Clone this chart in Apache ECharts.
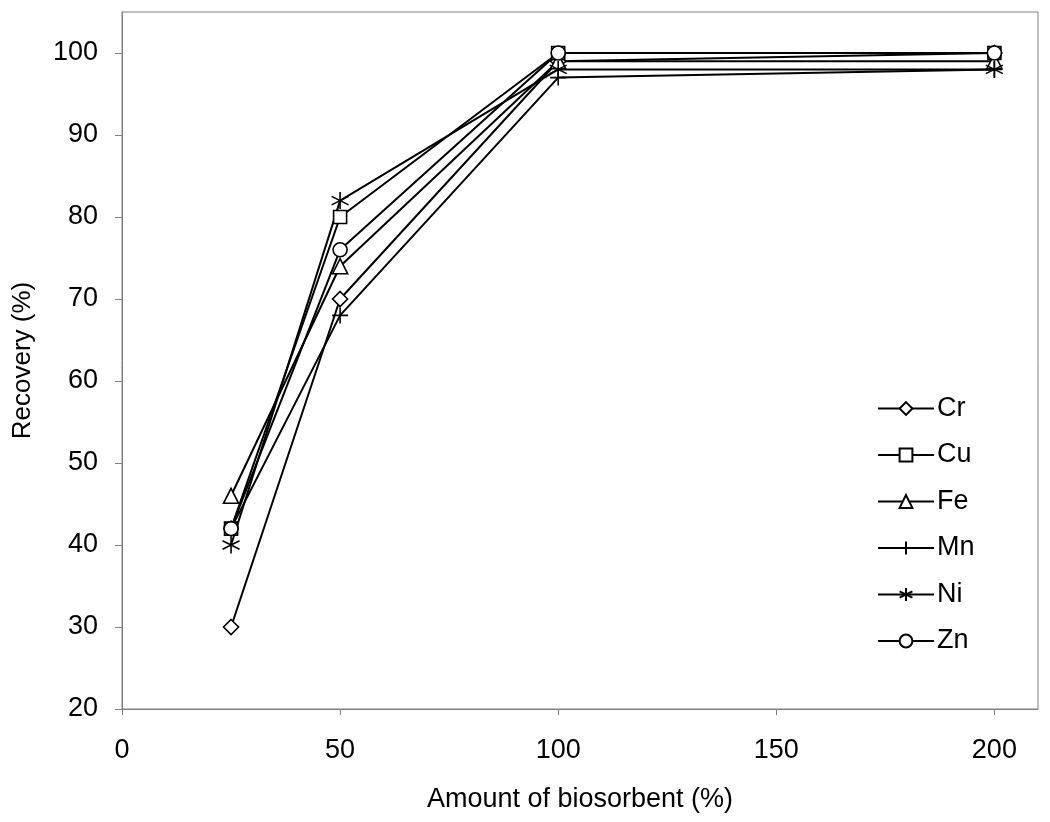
<!DOCTYPE html>
<html>
<head>
<meta charset="utf-8">
<script src="https://cdn.jsdelivr.net/npm/echarts@6/dist/echarts.min.js"></script>
<style>html,body{margin:0;padding:0;background:#fff}#c{width:1050px;height:822px}</style>
</head>
<body>
<div id="c"></div>
<script>
const xValues = [25, 50, 100, 200];
const cr = [30, 70, 99, 100];
const cu = [42, 80, 100, 100];
const fe = [46, 74, 99, 99];
const mn = [42, 68, 97, 98];
const ni = [40, 82, 98, 98];
const zn = [42, 76, 100, 100];
const xTicks = [0, 50, 100, 150, 200];
const yTicks = [20, 30, 40, 50, 60, 70, 80, 90, 100];

const plusPath = 'path://M5,0L5,10M0,5L10,5';
const starPath = 'path://M5,0L5,10M0.7,2.5L9.3,7.5M0.7,7.5L9.3,2.5';

const defs = [
  {name: 'Cr', data: cr, symbol: 'diamond', size: 15, fill: '#fff'},
  {name: 'Cu', data: cu, symbol: 'rect', size: 13, fill: '#fff'},
  {name: 'Fe', data: fe, symbol: 'triangle', size: 15, fill: '#fff'},
  {name: 'Mn', data: mn, symbol: plusPath, size: 16, fill: 'none'},
  {name: 'Ni', data: ni, symbol: starPath, size: 17, fill: 'none'},
  {name: 'Zn', data: zn, symbol: 'circle', size: 14, fill: '#fff'}
];

const chart = echarts.init(document.getElementById('c'));
const font = 'Liberation Sans, Arial, sans-serif';
chart.setOption({
  animation: false,
  backgroundColor: '#fff',
  grid: {left: 122, top: 12, right: 12, bottom: 113, show: true, borderColor: '#808080', borderWidth: 1,
         containLabel: false, outerBoundsMode: 'none'},
  legend: {
    orient: 'vertical', left: 872, top: 390, itemGap: 19.5, itemWidth: 56, itemHeight: 16,
    textStyle: {fontFamily: font, fontSize: 27, color: '#000', padding: [0, 0, 0, -2]},
    data: defs.map(d => d.name)
  },
  xAxis: {
    type: 'value', min: 0, max: 210,
    name: 'Amount of biosorbent (%)', nameLocation: 'middle', nameGap: 77,
    nameTextStyle: {fontFamily: font, fontSize: 27, color: '#000'},
    axisLine: {show: true, lineStyle: {color: '#808080', width: 1}},
    axisTick: {show: true, inside: false, length: 6, customValues: xTicks, lineStyle: {color: '#808080'}},
    axisLabel: {customValues: xTicks, fontFamily: font, fontSize: 27, color: '#000', margin: 28},
    splitLine: {show: false}
  },
  yAxis: {
    type: 'value', min: 20, max: 105,
    name: 'Recovery (%)', nameLocation: 'middle', nameGap: 86, nameRotate: 90,
    nameTextStyle: {fontFamily: font, fontSize: 26, color: '#000'},
    axisLine: {show: true, lineStyle: {color: '#808080', width: 1}},
    axisTick: {show: true, inside: false, length: 7, customValues: yTicks, lineStyle: {color: '#808080'}},
    axisLabel: {customValues: yTicks, fontFamily: font, fontSize: 27, color: '#000', margin: 24},
    splitLine: {show: false}
  },
  series: defs.map(d => ({
    name: d.name, type: 'line',
    data: xValues.map((x, i) => [x, d.data[i]]),
    symbol: d.symbol, symbolSize: d.size, showAllSymbol: true,
    lineStyle: {color: '#000', width: 2},
    itemStyle: {color: d.fill, borderColor: '#000', borderWidth: 1.6},
    emphasis: {disabled: true}
  }))
});
</script>
</body>
</html>
